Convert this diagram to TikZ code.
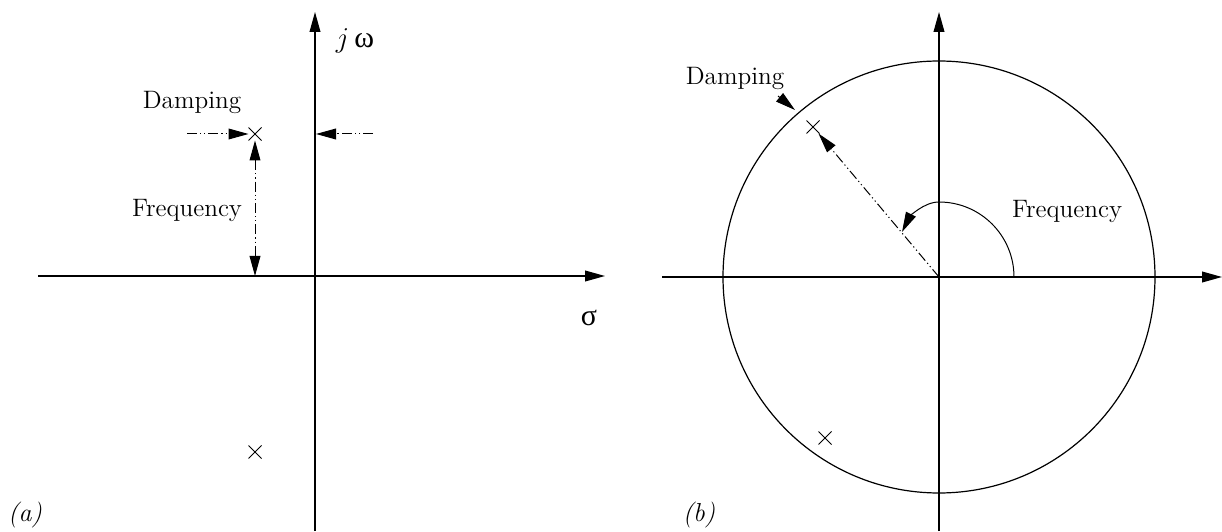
\documentclass[tikz,border=0pt]{standalone}
\usepackage{fontspec}
\newfontfamily\grkfont{Liberation Serif}
\usepackage{tikz}
\usetikzlibrary{arrows.meta,shapes.misc}

\begin{document}
\begin{tikzpicture}[x=0.5pt,y=0.5pt,
    >={Triangle[length=10pt,width=5.4pt]},
    axis/.style={line width=0.65pt,->},
    pole/.style={cross out,draw,line width=0.5pt,minimum size=6pt,inner sep=0pt},
    guide/.style={line width=0.5pt,
      dash pattern=on 5pt off 1.5pt on 0.6pt off 1.5pt on 0.6pt off 1.5pt},
    lbl/.style={font=\fontsize{12.6}{15}\selectfont,inner sep=0pt},
    sym/.style={font=\fontsize{15}{18}\selectfont,inner sep=0pt},
    tag/.style={font=\fontsize{13}{15}\selectfont\itshape,inner sep=0pt}
  ]
  \useasboundingbox (0,0) rectangle (1222,531);
  % (a): poles in the s-plane
  \coordinate (xa0) at (38,255);  \coordinate (xa1) at (605,255);
  \coordinate (ya0) at (315,0);   \coordinate (ya1) at (315,519);
  \draw[axis] (xa0) -- (xa1);
  \draw[axis] (ya0) -- (ya1);
  \node[sym] (jw) at (355,490) {$j$\,{\grkfont ω}};
  \node[sym] (sig) at (589,213) {{\grkfont σ}};
  \node[pole] (p1) at (255,397) {};
  \node[pole] (p2) at (255,79) {};
  \node[lbl] (dampa) at (192,429) {Damping};
  \node[lbl] (freqa) at (187,321) {Frequency};
  \coordinate (da0) at (187,397);
  \coordinate (da1) at (373,397);
  \coordinate (ja) at (316,397);
  \coordinate (fa) at (255,255);
  \draw[guide,->] (da0) -- (p1);
  \draw[guide,->] (da1) -- (ja);
  \draw[guide,<->] (p1) -- (fa);
  \node[tag] (taga) at (25,16) {(a)};
  % (b): poles in the z-plane
  \coordinate (Ob) at (939,254);
  \coordinate (xb0) at (662,254); \coordinate (xb1) at (1222,254);
  \coordinate (yb0) at (939,0);   \coordinate (yb1) at (939,519);
  \draw[axis] (xb0) -- (xb1);
  \draw[axis] (yb0) -- (yb1);
  \draw[line width=0.6pt] (Ob) circle[radius=216];
  \node[pole] (p3) at (813,404) {};
  \node[pole] (p4) at (825,93) {};
  \draw[guide,->] (Ob) -- (p3);
  \node[lbl] (dampb) at (735,453) {Damping};
  \coordinate (db0) at (778,435);
  \coordinate (db1) at (795,421);
  \draw[line width=0.5pt,->] (db0) -- (db1);
  \node[lbl] (freqb) at (1067,320) {Frequency};
  \coordinate (fb0) at (1014,254);
  \coordinate (fb1) at (902,299);
  \draw[line width=0.5pt,->] (fb0) arc[start angle=0,end angle=90,radius=75]
    .. controls +(-16,0) and +(7,14) .. (fb1);
  \node[tag] (tagb) at (699,16) {(b)};
\end{tikzpicture}
\end{document}
